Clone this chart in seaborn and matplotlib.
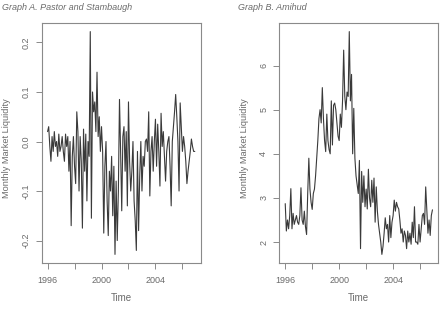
import numpy as np
import pandas as pd
import matplotlib
matplotlib.use("Agg")
import matplotlib.pyplot as plt
import seaborn as sns

# monthly series, Jan 1996 - Dec 2006 (one row per year)
pastor_stambaugh = [
    0.020, 0.030, -0.010, -0.040, 0.010, -0.020, 0.020, -0.010, 0.000, -0.030, 0.015, -0.020,
    -0.010, 0.010, -0.020, -0.040, 0.015, -0.010, 0.010, -0.060, 0.000, -0.170, -0.030, 0.010,
    -0.050, -0.085, 0.060, 0.020, -0.100, 0.010, -0.040, -0.175, 0.025, -0.060, 0.015, -0.120,
    0.000, -0.030, 0.222, -0.155, 0.100, 0.060, 0.080, 0.020, 0.140, 0.010, 0.050, -0.020,
    0.030, -0.020, -0.185, -0.050, 0.000, -0.120, -0.190, -0.060, -0.100, -0.030, -0.150, -0.050,
    -0.228, -0.080, -0.200, -0.100, 0.085, -0.020, -0.140, 0.010, 0.030, -0.060, 0.020, -0.130,
    0.080, -0.040, -0.100, -0.060, 0.000, -0.120, -0.160, -0.220, -0.020, -0.180, -0.070, 0.000,
    -0.100, -0.030, -0.050, 0.000, 0.005, -0.020, 0.060, -0.110, -0.020, 0.010, -0.060, 0.000,
    0.045, -0.050, 0.035, -0.020, -0.090, 0.057, -0.010, 0.020, -0.030, -0.080, -0.020, 0.000,
    0.010, -0.050, -0.130, 0.000, 0.030, 0.060, 0.095, 0.050, 0.000, -0.100, 0.078, 0.030,
    -0.020, 0.010, -0.010, -0.040, -0.085, -0.060, -0.040, -0.020, 0.005, -0.010, -0.020, -0.020,
]

amihud = [
    2.87, 2.25, 2.50, 2.30, 2.60, 3.21, 2.30, 2.65, 2.40, 2.50, 2.60, 2.45,
    2.40, 2.60, 3.23, 2.50, 2.40, 2.70, 2.35, 2.17, 3.10, 3.90, 3.20, 2.90,
    2.74, 3.10, 3.20, 3.50, 3.90, 4.30, 4.80, 5.00, 4.70, 5.50, 4.80, 4.30,
    4.05, 4.90, 4.30, 4.10, 4.00, 5.20, 4.20, 5.10, 5.15, 5.00, 4.70, 4.40,
    4.30, 4.90, 4.60, 5.20, 6.35, 5.30, 5.00, 5.40, 5.30, 6.77, 5.20, 5.80,
    4.00, 5.03, 3.90, 3.50, 3.30, 3.10, 3.85, 1.85, 3.60, 2.90, 3.50, 2.80,
    3.20, 2.75, 3.65, 3.00, 2.80, 3.40, 2.90, 3.45, 2.45, 3.25, 2.70, 2.40,
    2.20, 2.00, 1.72, 1.90, 2.20, 2.55, 2.30, 2.40, 2.00, 2.60, 2.10, 2.45,
    2.60, 2.95, 2.70, 2.90, 2.80, 2.75, 2.50, 2.20, 2.30, 2.00, 2.25, 2.15,
    1.85, 2.25, 2.00, 2.20, 1.95, 2.45, 2.10, 2.80, 2.00, 2.00, 1.95, 2.40,
    2.00, 2.30, 2.60, 2.65, 2.40, 3.25, 2.70, 2.20, 2.50, 2.15, 2.60, 2.73,
]

time = 1996 + np.arange(len(amihud)) / 12.0

x_ticks = [1996, 1998, 2000, 2002, 2004, 2006]
x_labels = ["1996", "", "2000", "", "2004", ""]
a_ticks = [-0.2, -0.1, 0.0, 0.1, 0.2]
a_labels = ["-0.2", "-0.1", "0.0", "0.1", "0.2"]
b_ticks = [2, 3, 4, 5, 6]
b_labels = ["2", "3", "4", "5", "6"]

df = pd.DataFrame({"Time": time, "ps": pastor_stambaugh, "am": amihud})

sns.set_theme(style="white")
plt.rcParams["font.family"] = ["Liberation Sans", "DejaVu Sans"]

fig = plt.figure(figsize=(4.42, 3.13), dpi=100)
ax_a = fig.add_axes([0.0943, 0.1588, 0.3597, 0.7687])
ax_b = fig.add_axes([0.6320, 0.1588, 0.3597, 0.7687])

grey_txt = "#6a6a6a"
grey_box = "#8a8a8a"

panels = [
    (ax_a, "ps", a_ticks, a_labels),
    (ax_b, "am", b_ticks, b_labels),
]
for ax, col, yt, yl in panels:
    sns.lineplot(data=df, x="Time", y=col, ax=ax, color="#3a3a3a", linewidth=0.8)
    ax.margins(x=0.04, y=0.04)
    ax.set_xticks(x_ticks)
    ax.set_xticklabels(x_labels)
    ax.set_yticks(yt)
    ax.set_yticklabels(yl, rotation=90, va="center")
    for s in ax.spines.values():
        s.set_color(grey_box)
        s.set_linewidth(0.8)
    ax.tick_params(axis="both", direction="out", length=4, width=0.7,
                   color=grey_box, labelcolor=grey_txt, labelsize=6.5)
    ax.tick_params(axis="x", pad=5)
    ax.tick_params(axis="y", pad=4)
    ax.tick_params(left=True, bottom=True)
    ax.set_xlabel("Time", fontsize=7, color=grey_txt)
    ax.set_ylabel("Monthly Market Liquidity", fontsize=6.6, color=grey_txt)
    ax.xaxis.set_label_coords(0.5, -0.125)
    ax.yaxis.set_label_coords(-0.19, 0.48)

fig.text(0.005, 0.992, "Graph A. Pastor and Stambaugh", fontsize=6.5,
         style="italic", color=grey_txt, va="top", ha="left")
fig.text(0.538, 0.992, "Graph B. Amihud", fontsize=6.5,
         style="italic", color=grey_txt, va="top", ha="left")

fig.savefig("out.png", dpi=100)
